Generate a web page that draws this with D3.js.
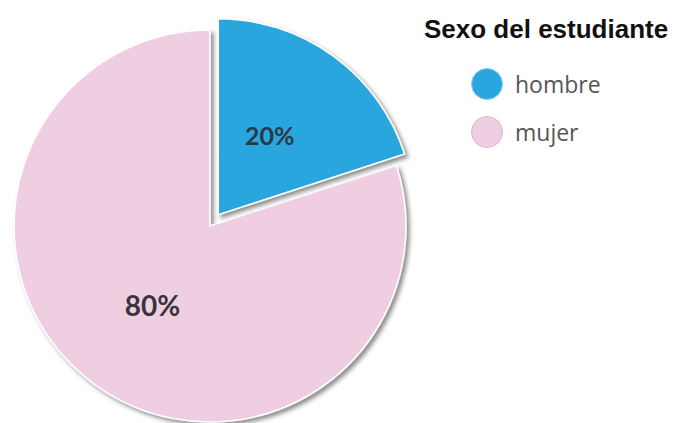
<!DOCTYPE html>
<html>
<head>
<meta charset="utf-8">
<script src="https://cdn.jsdelivr.net/npm/d3@7"></script>
<style>
  html, body { margin: 0; padding: 0; background: #ffffff; }
  svg { display: block; }
</style>
</head>
<body>
<svg id="chart" width="673" height="423"></svg>
<script>
// Student sex breakdown
const categories = ["hombre", "mujer"];
const values = [20, 80];
const sliceColors = ["#2aa6df", "#f0cee2"];
const legendTitle = "Sexo del estudiante";

const width = 673, height = 423;
const cx = 210, cy = 226, radius = 196;
const explode = 14; // pull-out distance for the first slice

const svg = d3.select("#chart");

const defs = svg.append("defs");
const shadow = defs.append("filter")
  .attr("id", "slice-shadow")
  .attr("x", "-20%").attr("y", "-20%")
  .attr("width", "140%").attr("height", "140%");
shadow.append("feDropShadow")
  .attr("dx", 3).attr("dy", 3)
  .attr("stdDeviation", 2)
  .attr("flood-color", "#555")
  .attr("flood-opacity", 0.65);

const color = d3.scaleOrdinal().domain(categories).range(sliceColors);

const pie = d3.pie().sort(null).value(d => d.value);
const data = pie(categories.map((c, i) => ({ category: c, value: values[i] })));

const arc = d3.arc().innerRadius(0).outerRadius(radius);

const g = svg.append("g").attr("transform", `translate(${cx},${cy})`);

// Draw the larger slice first so the pulled-out slice sits on top
const order = data.slice().sort((a, b) => b.value - a.value);

const offset = d => {
  if (d.index !== 0) return [0, 0];
  const mid = (d.startAngle + d.endAngle) / 2;
  return [Math.sin(mid) * explode, -Math.cos(mid) * explode];
};

const slices = g.selectAll("g.slice")
  .data(order)
  .join("g")
  .attr("class", "slice")
  .attr("transform", d => `translate(${offset(d)})`);

slices.append("path")
  .attr("d", arc)
  .attr("fill", d => color(d.data.category))
  .attr("stroke", "#ffffff")
  .attr("stroke-width", 1.6)
  .attr("filter", "url(#slice-shadow)");

// Percentage labels near the slice centroids
const labelArc = d3.arc().innerRadius(0).outerRadius(radius);
slices.append("text")
  .attr("transform", d => {
    const [x, y] = labelArc.centroid(d);
    return `translate(${d.index === 0 ? x - 6 : x},${y})`;
  })
  .attr("text-anchor", "middle")
  .attr("dominant-baseline", "central")
  .attr("font-family", "Lato, 'Open Sans', sans-serif")
  .attr("font-weight", 700)
  .attr("font-size", d => d.index === 0 ? 25 : 28)
  .attr("fill", d => d.index === 0 ? "#2b3845" : "#3a333c")
  .text(d => d.data.value + "%");

// Legend
const legend = svg.append("g").attr("transform", "translate(424,0)");
legend.append("text")
  .attr("x", 0).attr("y", 38)
  .attr("font-family", "'Liberation Sans', Arial, sans-serif")
  .attr("font-weight", 700)
  .attr("font-size", 26)
  .attr("fill", "#111")
  .text(legendTitle);

const items = legend.selectAll("g.item")
  .data(categories)
  .join("g")
  .attr("class", "item")
  .attr("transform", (d, i) => `translate(0,${84 + i * 48})`);

items.append("circle")
  .attr("cx", 63).attr("cy", 0).attr("r", 15.5)
  .attr("fill", d => color(d))
  .attr("stroke", (d, i) => i === 0 ? "#8fcdee" : "#d9b8cb")
  .attr("stroke-width", 1);

items.append("text")
  .attr("x", 91).attr("y", 0)
  .attr("dominant-baseline", "central")
  .attr("font-family", "'Open Sans', sans-serif")
  .attr("font-size", 23)
  .attr("fill", "#555")
  .text(d => d);
</script>
</body>
</html>
